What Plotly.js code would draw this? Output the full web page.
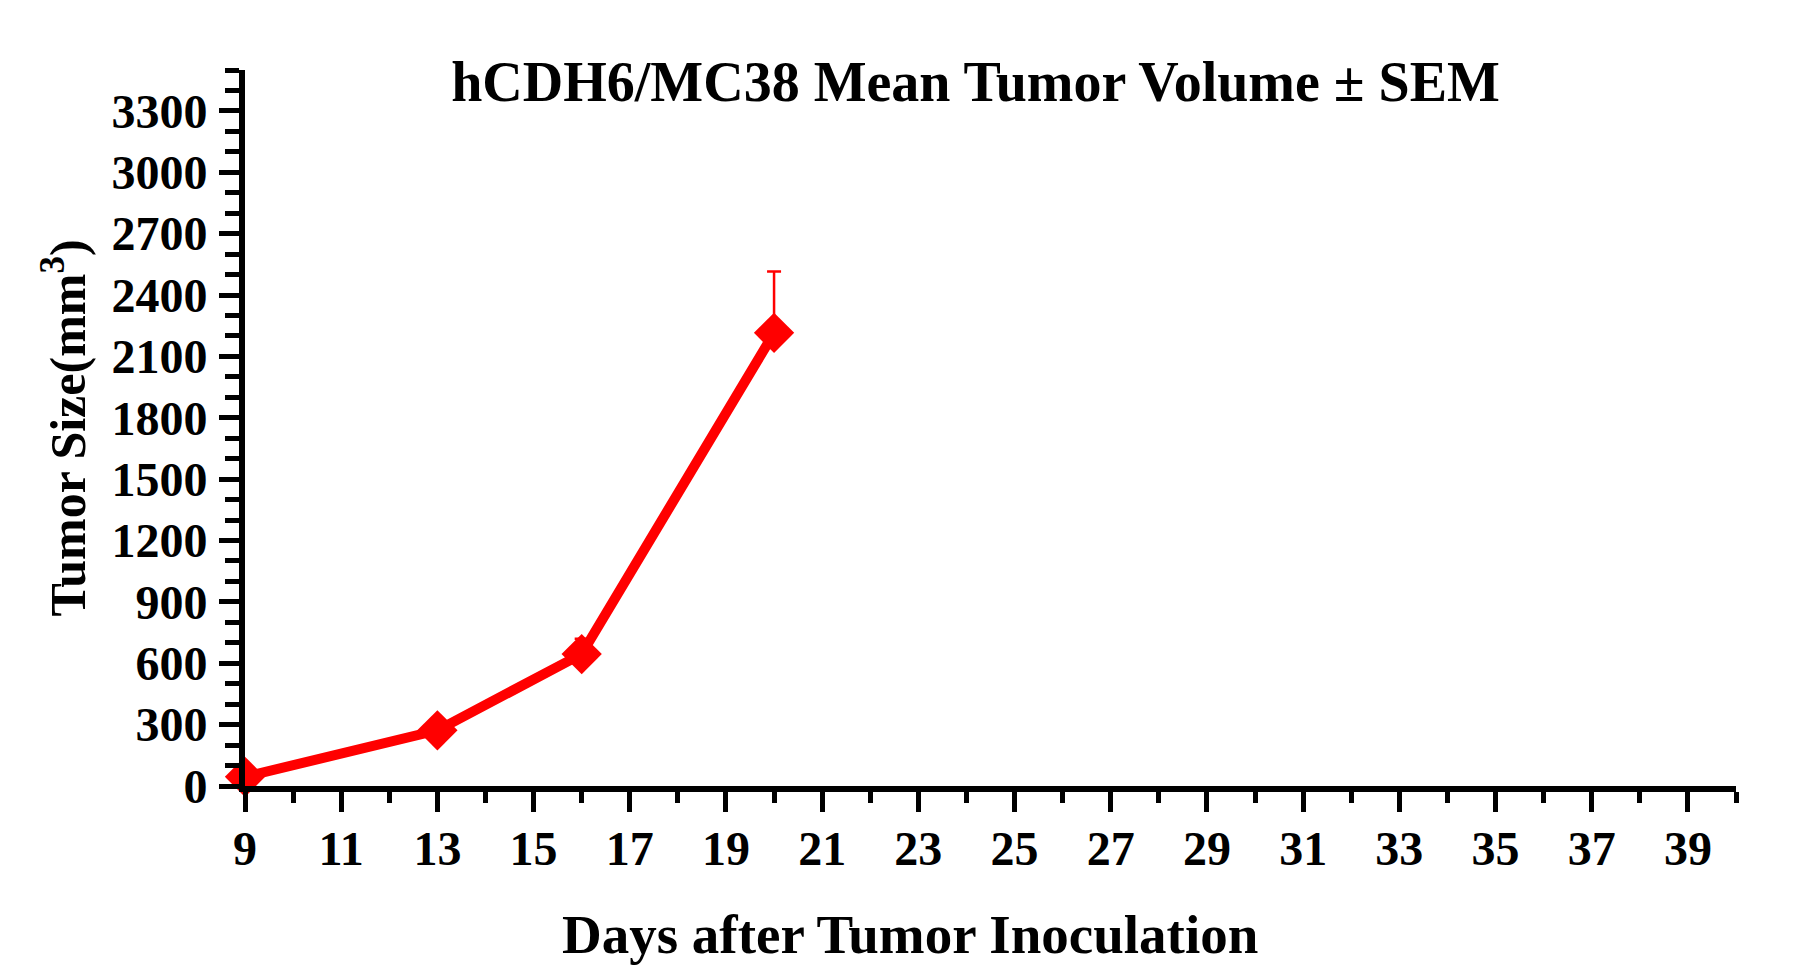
<!DOCTYPE html>
<html>
<head>
<meta charset="utf-8">
<script src="https://cdn.plot.ly/plotly-3.0.1.min.js"></script>
<style>
  html, body { margin: 0; padding: 0; background: #fff; }
  #chart { width: 1802px; height: 978px; }
</style>
</head>
<body>
<div id="chart"></div>
<script>
// hCDH6/MC38 mean tumor volume
var days = [9, 13, 16, 20];
var meanVolume = [45, 272, 645, 2215];
var semVolume = [5, 20, 75, 300];

var font = 'Liberation Serif';

var trace1 = {
  x: days,
  y: meanVolume,
  type: 'scatter',
  mode: 'lines+markers',
  cliponaxis: false,
  line: { color: '#ff0000', width: 10 },
  marker: { symbol: 'diamond', size: 31, color: '#ff0000' },
  error_y: {
    type: 'data',
    symmetric: false,
    array: semVolume,
    arrayminus: [0, 0, 0, 0],
    color: '#ff0000',
    thickness: 2.5,
    width: 7
  },
  hovertemplate: 'Day %{x}: %{y} mm³<extra></extra>'
};

var layout = {
  width: 1802,
  height: 978,
  margin: { l: 245, r: 66, t: 70, b: 192 },
  paper_bgcolor: '#fff',
  plot_bgcolor: '#fff',
  showlegend: false,
  font: { family: font, color: '#000' },
  title: {
    text: '<b>hCDH6/MC38 Mean Tumor Volume ± SEM</b>',
    font: { family: font, size: 56, color: '#000' },
    xref: 'paper',
    x: 0.49,
    xanchor: 'center',
    yref: 'container',
    y: 0.917,
    yanchor: 'middle'
  },
  xaxis: {
    range: [9, 40],
    tick0: 9,
    dtick: 2,
    showgrid: false,
    zeroline: false,
    showline: true,
    linecolor: '#000',
    linewidth: 6,
    ticks: 'outside',
    ticklen: 20,
    tickwidth: 5,
    tickcolor: '#000',
    ticklabelstandoff: -5,
    minor: { dtick: 1, tick0: 9, ticks: 'outside', ticklen: 11, tickwidth: 5, tickcolor: '#000', showgrid: false },
    tickfont: { family: font, size: 48, color: '#000', weight: 'bold' }
  },
  yaxis: {
    range: [0, 3500],
    tick0: 0,
    dtick: 300,
    showgrid: false,
    zeroline: false,
    showline: true,
    linecolor: '#000',
    linewidth: 6,
    ticks: 'outside',
    ticklen: 20,
    tickwidth: 5,
    tickcolor: '#000',
    ticklabelstandoff: 2,
    minor: { dtick: 100, tick0: 0, ticks: 'outside', ticklen: 14, tickwidth: 5, tickcolor: '#000', showgrid: false },
    tickfont: { family: font, size: 48, color: '#000', weight: 'bold' },
    title: {
      text: '<b>Tumor Size(mm<sup>3</sup>)</b>',
      font: { family: font, size: 50, color: '#000' },
      standoff: 12
    }
  },
  annotations: [{
    text: '<b>Days after Tumor Inoculation</b>',
    font: { family: font, size: 55, color: '#000' },
    xref: 'paper',
    yref: 'paper',
    x: 0.446,
    y: -0.208,
    xanchor: 'center',
    yanchor: 'middle',
    showarrow: false
  }]
};

Plotly.newPlot('chart', [trace1], layout, { displayModeBar: false, responsive: false });
</script>
</body>
</html>
